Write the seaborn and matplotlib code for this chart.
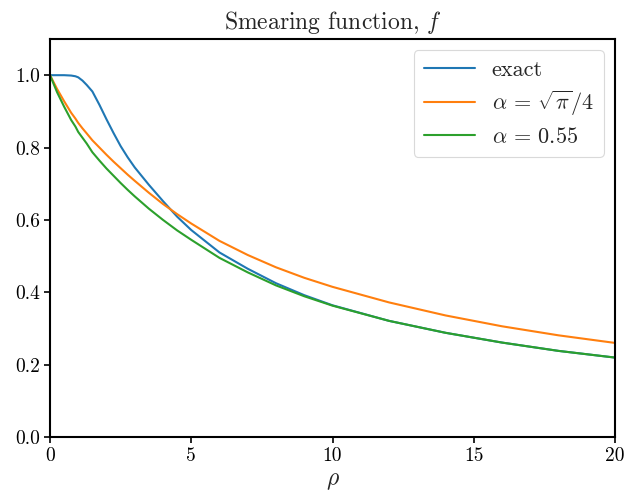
import numpy as np
import pandas as pd
import matplotlib
matplotlib.use("Agg")
import matplotlib.pyplot as plt
import seaborn as sns

# ---- data ----
rho = [0, 0.25, 0.5, 0.75, 0.9, 1.0, 1.15, 1.3, 1.5, 1.75, 2.0, 2.25, 2.5, 2.75,
       3.0, 3.5, 4.0, 4.5, 5.0, 6.0, 7.0, 8.0, 9.0, 10.0, 12.0, 14.0, 16.0,
       18.0, 20.0]
f_exact = [1.0, 1.0, 1.0, 0.999, 0.997, 0.994, 0.985, 0.973, 0.955, 0.918, 0.878,
           0.840, 0.804, 0.773, 0.745, 0.697, 0.652, 0.609, 0.572, 0.510, 0.465,
           0.425, 0.392, 0.364, 0.321, 0.288, 0.261, 0.238, 0.2195]
f_sqrtpi = [1.0, 0.962, 0.928, 0.896, 0.880, 0.868, 0.853, 0.839, 0.820, 0.800,
            0.780, 0.761, 0.743, 0.725, 0.708, 0.675, 0.644, 0.616, 0.590, 0.542,
            0.503, 0.469, 0.440, 0.415, 0.372, 0.336, 0.306, 0.281, 0.260]
f_055 = [1.0, 0.953, 0.913, 0.876, 0.858, 0.843, 0.827, 0.811, 0.787, 0.764,
         0.742, 0.722, 0.702, 0.683, 0.665, 0.631, 0.600, 0.571, 0.545, 0.495,
         0.455, 0.419, 0.389, 0.363, 0.321, 0.288, 0.261, 0.238, 0.2195]
labels = ["exact", r"$\alpha\, =\, \sqrt{\pi}/4$", r"$\alpha\, =\, 0.55$"]
colors = ["#1f77b4", "#ff7f0e", "#2ca02c"]
x_ticks = [0, 5, 10, 15, 20]
y_ticks = [0.0, 0.2, 0.4, 0.6, 0.8, 1.0]

sns.set_style("ticks")
plt.rcParams["font.family"] = ["serif"]
plt.rcParams["font.serif"] = ["cmr10", "DejaVu Serif"]
plt.rcParams["mathtext.fontset"] = "cm"
plt.rcParams["axes.unicode_minus"] = False
plt.rcParams["axes.formatter.use_mathtext"] = True

fig = plt.figure(figsize=(6.35, 4.94), dpi=100)
ax = fig.add_axes([50 / 635, 57 / 494, 565 / 635, 398 / 494])

for ys, lab, c in zip([f_exact, f_sqrtpi, f_055], labels, colors):
    sns.lineplot(x=rho, y=ys, ax=ax, color=c, label=lab, linewidth=1.5)

ax.set_xlim(0, 20)
ax.set_ylim(0, 1.1)
ax.set_xticks(x_ticks)
ax.set_xticklabels([str(t) for t in x_ticks])
ax.set_yticks(y_ticks)
ax.set_yticklabels([f"{t:.1f}" for t in y_ticks])
ax.tick_params(axis="both", direction="out", length=4, width=1.2, colors="black",
               labelsize=14, labelcolor="black", pad=3)
for s in ax.spines.values():
    s.set_visible(True)
    s.set_color("black")
    s.set_linewidth(1.5)

ax.set_title(r"Smearing function, $f$", fontsize=17, pad=7)
ax.set_xlabel(r"$\rho$", fontsize=17, labelpad=4)
ax.set_ylabel("")

leg = ax.legend(loc="upper right", fontsize=16, frameon=True, fancybox=True,
                handlelength=2.3, handletextpad=0.75, borderpad=0.45,
                labelspacing=0.4, borderaxespad=0.5)
leg.get_frame().set_edgecolor("#d0d0d0")
leg.get_frame().set_linewidth(0.8)

fig.savefig("out.png", dpi=100)
